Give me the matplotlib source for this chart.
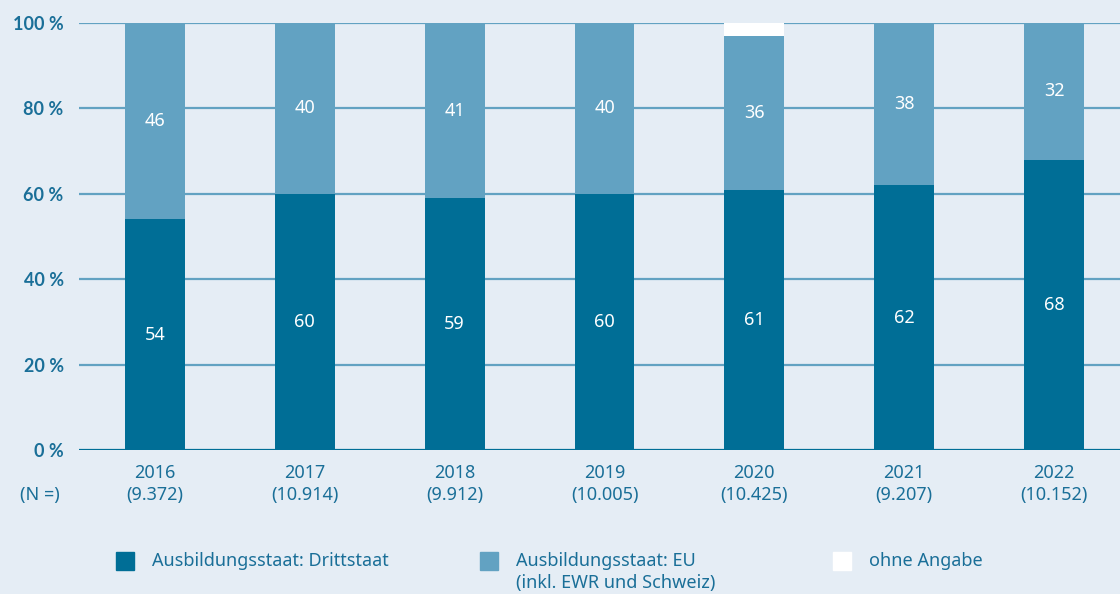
import numpy as np
import matplotlib.pyplot as plt

plt.rcParams['font.family'] = ['Noto Sans', 'DejaVu Sans']

jahre = ['2016', '2017', '2018', '2019', '2020', '2021', '2022']
n_werte = ['9.372', '10.914', '9.912', '10.005', '10.425', '9.207', '10.152']
drittstaat = [54, 60, 59, 60, 61, 62, 68]
eu = [46, 40, 41, 40, 36, 38, 32]
ohne = [0, 0, 0, 0, 3, 0, 0]

bg = '#e5edf5'
dunkel = '#006e96'
hell = '#62a2c2'
txt = '#1a6f98'

fig = plt.figure(figsize=(11.2, 5.94), dpi=100, facecolor=bg)
ax = fig.add_axes([79/1120, 1-450/594, 1041/1120, 427/594], facecolor=bg)

x = np.arange(len(jahre))
w = 0.40
d = np.array(drittstaat)
e = np.array(eu)
o = np.array(ohne)
ax.bar(x, d, w, color=dunkel, zorder=3)
ax.bar(x, e, w, bottom=d, color=hell, zorder=3)
ax.bar(x, o, w, bottom=d+e, color='white', zorder=3)

for i in range(len(x)):
    ax.text(x[i], d[i]/2, str(d[i]), ha='center', va='center', color='white', fontsize=13, zorder=4)
    ax.text(x[i], d[i] + e[i]/2, str(e[i]), ha='center', va='center', color='white', fontsize=13, zorder=4)

ax.set_xlim(-0.507, 6.44)
ax.set_ylim(0, 100)
for yv in [20, 40, 60, 80, 100]:
    ax.axhline(yv, color=hell, lw=1.6, zorder=1)
ax.axhline(0, color=dunkel, lw=1.6, zorder=4)

for s in ax.spines.values():
    s.set_visible(False)
ax.set_yticks([0, 20, 40, 60, 80, 100])
ax.set_yticklabels([f'{v} %' for v in [0, 20, 40, 60, 80, 100]], fontsize=13,
                   fontweight='bold', color=txt, family=['Lato', 'DejaVu Sans'])
ax.tick_params(axis='y', length=0, pad=11)
ax.set_xticks(x)
ax.set_xticklabels([f'{j}\n({n})' for j, n in zip(jahre, n_werte)], fontsize=13, color=txt, linespacing=1.3)
ax.tick_params(axis='x', length=0, pad=10)
fig.text(40/1120, 1-495/594, '(N =)', ha='center', va='center', fontsize=13, color=txt)

# Legende
eintraege = [(116, dunkel, 'Ausbildungsstaat: Drittstaat'),
             (480, hell, 'Ausbildungsstaat: EU\n(inkl. EWR und Schweiz)'),
             (833, 'white', 'ohne Angabe')]
for px, col, lab in eintraege:
    fig.patches.append(plt.Rectangle((px/1120, 1-570/594), 18/1120, 18/594,
                                     transform=fig.transFigure, color=col, figure=fig))
    for k, zeile in enumerate(lab.split('\n')):
        fig.text((px+36)/1120, 1-(561+22*k)/594, zeile, ha='left', va='center',
                 fontsize=13, color=txt)

fig.savefig('out.png', dpi=100, facecolor=bg)
